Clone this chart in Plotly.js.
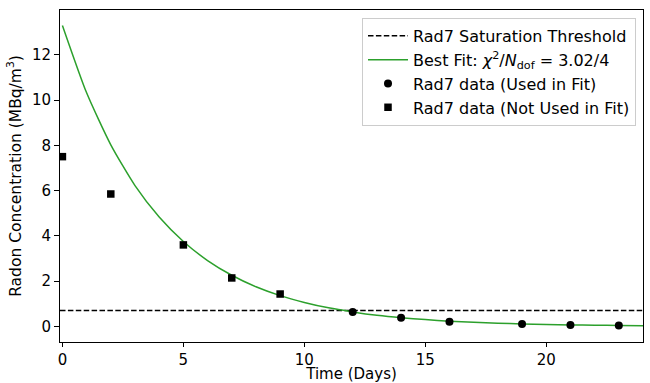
<!DOCTYPE html>
<html>
<head>
<meta charset="utf-8">
<script src="https://cdn.plot.ly/plotly-3.0.1.min.js"></script>
<style>
  html, body { margin: 0; padding: 0; background: #fff; }
  #chart { width: 650px; height: 383px; }
</style>
</head>
<body>
<div id="chart"></div>
<script>
// Rad7 measurements (days, MBq/m^3)
const usedDays = [12, 14, 16, 19, 21, 23];
const usedConc = [0.64, 0.38, 0.21, 0.10, 0.06, 0.04];
const usedErr = [0.03, 0.02, 0.015, 0.01, 0.01, 0.01];

const unusedDays = [0, 2, 5, 7, 9];
const unusedConc = [7.50, 5.85, 3.60, 2.14, 1.43];
const unusedErr = [0.08, 0.07, 0.05, 0.04, 0.03];

// Best-fit curve sampled once per day
const fitDays = [0, 1, 2, 3, 4, 5, 6, 7, 8, 9, 10, 11, 12, 13, 14, 15, 16, 17, 18, 19, 20, 21, 22, 23, 24];
const fitConc = [13.30, 10.32, 8.02, 6.22, 4.83, 3.75, 2.91, 2.26, 1.75, 1.36, 1.06, 0.82, 0.64,
                 0.49, 0.38, 0.30, 0.23, 0.18, 0.14, 0.11, 0.085, 0.066, 0.051, 0.040, 0.031];

// Rad7 saturation threshold
const saturationLevel = 0.70;

const xRange = [-0.1, 24.0];
const yRange = [-0.69, 13.98];
const xTicks = [0, 5, 10, 15, 20];
const yTicks = [0, 2, 4, 6, 8, 10, 12];

const FONT = 'DejaVu Sans, sans-serif';

const traces = [
  {
    name: 'Rad7 Saturation Threshold',
    x: xRange,
    y: [saturationLevel, saturationLevel],
    mode: 'lines',
    line: { color: '#000', width: 1.5, dash: '5.5px,2.4px' },
    hoverinfo: 'skip'
  },
  {
    name: 'Best Fit: <i>χ</i><sup>2</sup>/<i>N</i><sub>dof</sub> = 3.02/4',
    x: fitDays,
    y: fitConc,
    mode: 'lines',
    line: { color: '#2ca02c', width: 1.5, shape: 'spline', smoothing: 0.6 }
  },
  {
    name: 'Rad7 data (Used in Fit)',
    x: usedDays,
    y: usedConc,
    mode: 'markers',
    marker: { symbol: 'circle', size: 8, color: '#000' },
    error_y: { type: 'data', array: usedErr, color: '#000', thickness: 1.5, width: 0 }
  },
  {
    name: 'Rad7 data (Not Used in Fit)',
    x: unusedDays,
    y: unusedConc,
    mode: 'markers',
    marker: { symbol: 'square', size: 7.5, color: '#000' },
    error_y: { type: 'data', array: unusedErr, color: '#000', thickness: 1.5, width: 0 }
  }
];

const axisCommon = {
  showgrid: false,
  zeroline: false,
  showline: true,
  mirror: true,
  linecolor: '#000',
  linewidth: 1,
  ticks: 'outside',
  ticklen: 5,
  tickwidth: 1,
  tickcolor: '#000',
  tickfont: { family: FONT, size: 15, color: '#000' }
};

const layout = {
  width: 650,
  height: 383,
  margin: { l: 60, r: 7, t: 10, b: 41 },
  paper_bgcolor: '#fff',
  plot_bgcolor: '#fff',
  font: { family: FONT, size: 16, color: '#000' },
  showlegend: true,
  xaxis: Object.assign({}, axisCommon, {
    range: xRange,
    tickvals: xTicks,
    ticklen: 4,
    title: { text: 'Time (Days)', font: { family: FONT, size: 15, color: '#000' }, standoff: 3 }
  }),
  yaxis: Object.assign({}, axisCommon, {
    range: yRange,
    tickvals: yTicks,
    title: { text: 'Radon Concentration (MBq/m<sup>3</sup>)', font: { family: FONT, size: 15.5, color: '#000' }, standoff: 6 }
  }),
  legend: {
    x: 0.988,
    y: 0.976,
    xanchor: 'right',
    yanchor: 'top',
    bgcolor: 'rgba(255,255,255,0.8)',
    bordercolor: '#cccccc',
    borderwidth: 1,
    itemwidth: 40,
    font: { family: FONT, size: 16, color: '#000' }
  }
};

Plotly.newPlot('chart', traces, layout, { staticPlot: true, displayModeBar: false });
</script>
</body>
</html>
